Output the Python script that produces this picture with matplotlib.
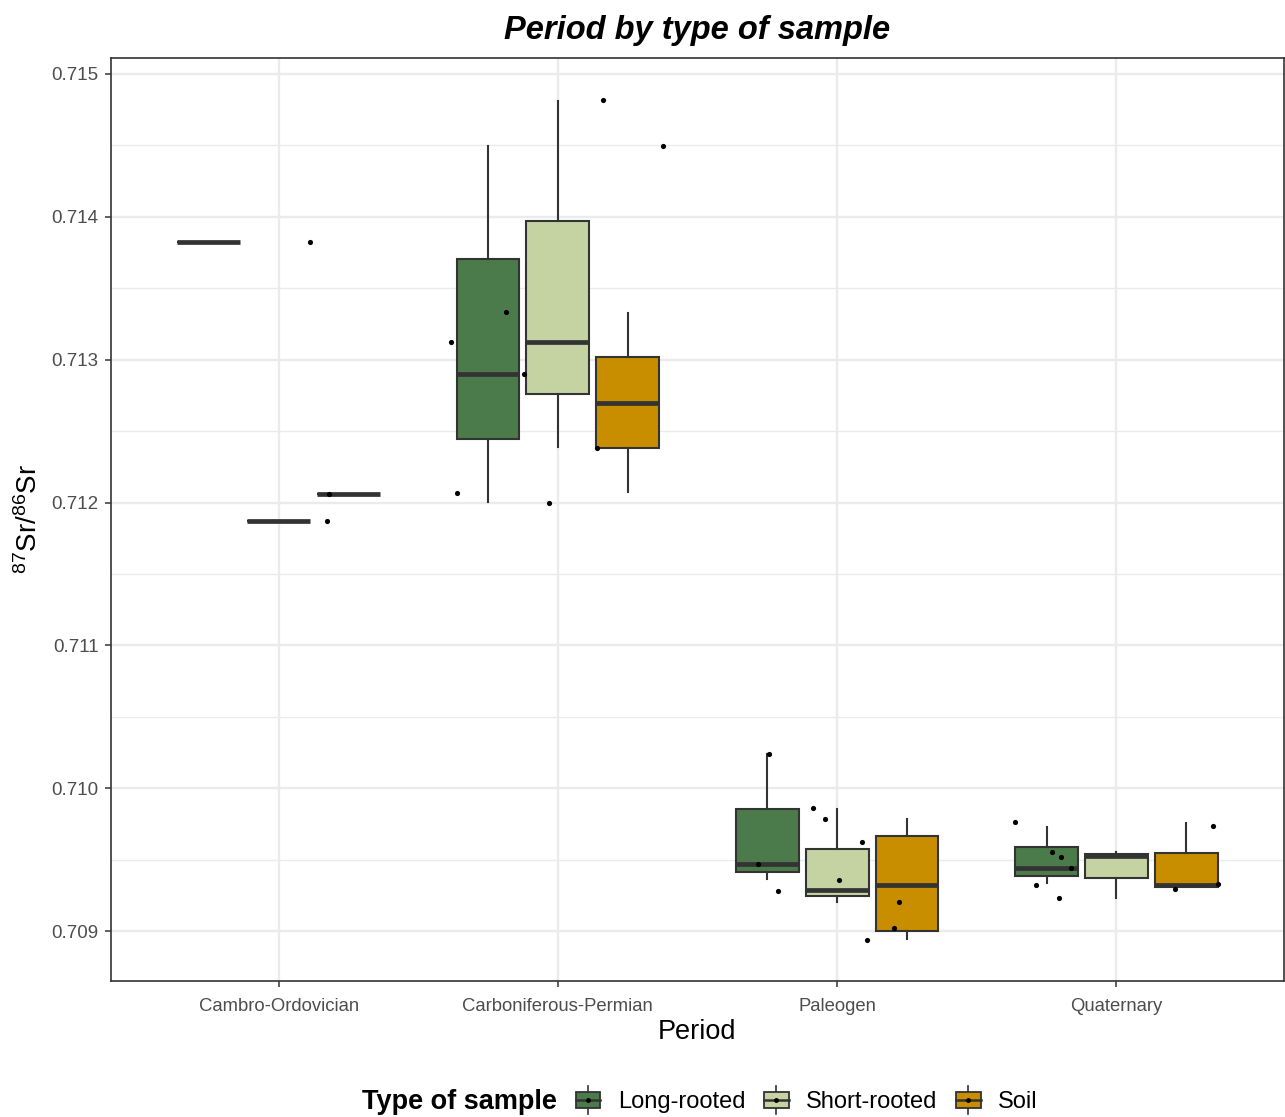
import matplotlib
matplotlib.use("Agg")
import matplotlib.pyplot as plt
from matplotlib.legend_handler import HandlerBase
from matplotlib.patches import Patch, Rectangle
from matplotlib.lines import Line2D

plt.rcParams['font.family'] = ['Liberation Sans', 'DejaVu Sans']
plt.rcParams['mathtext.default'] = 'regular'

# ---------------- data ----------------
periods = ["Cambro-Ordovician", "Carboniferous-Permian", "Paleogen", "Quaternary"]
types = ["Long-rooted", "Short-rooted", "Soil"]
colors = ["#4b7b4b", "#c4d3a1", "#c98d00"]

# box statistics per type: one value per period (whislo, q1, median, q3, whishi)
long_whislo = [0.713826, 0.712001, 0.709366, 0.709334]
long_q1     = [0.713826, 0.712447, 0.709413, 0.709383]
long_med    = [0.713826, 0.712900, 0.709469, 0.709439]
long_q3     = [0.713826, 0.713703, 0.709854, 0.709588]
long_whishi = [0.713826, 0.714496, 0.710239, 0.709730]

short_whislo = [0.711873, 0.712386, 0.709205, 0.709231]
short_q1     = [0.711873, 0.712757, 0.709245, 0.709373]
short_med    = [0.711873, 0.713124, 0.709285, 0.709523]
short_q3     = [0.711873, 0.713971, 0.709574, 0.709539]
short_whishi = [0.711873, 0.714813, 0.709852, 0.709555]

soil_whislo = [0.712060, 0.712071, 0.708942, 0.709305]
soil_q1     = [0.712060, 0.712382, 0.709000, 0.709308]
soil_med    = [0.712060, 0.712699, 0.709324, 0.709324]
soil_q3     = [0.712060, 0.713016, 0.709665, 0.709544]
soil_whishi = [0.712060, 0.713329, 0.709782, 0.709758]

# jittered observations (period index, horizontal jitter, value)
pt_period = [0, 0, 0,
             1, 1, 1, 1, 1, 1, 1, 1,
             2, 2, 2, 2, 2, 2, 2, 2, 2, 2,
             3, 3, 3, 3, 3, 3, 3, 3, 3]
pt_jitter = [0.111, 0.172, 0.179,
             0.162, 0.375, -0.184, -0.381, -0.121, 0.140, -0.362, -0.032,
             -0.243, -0.085, -0.042, 0.090, -0.284, 0.005, -0.211, 0.223, 0.204, 0.108,
             -0.362, -0.230, -0.198, -0.161, -0.288, -0.204, 0.345, 0.211, 0.362]
pt_value = [0.713826, 0.711873, 0.712060,
            0.714818, 0.714498, 0.713332, 0.713126, 0.712900, 0.712384, 0.712067, 0.711999,
            0.710239, 0.709859, 0.709784, 0.709623, 0.709469, 0.709360, 0.709282, 0.709203, 0.709023, 0.708937,
            0.709763, 0.709555, 0.709518, 0.709439, 0.709322, 0.709231, 0.709733, 0.709296, 0.709331]

yticks = [0.709, 0.710, 0.711, 0.712, 0.713, 0.714, 0.715]
ytick_labels = ["0.709", "0.710", "0.711", "0.712", "0.713", "0.714", "0.715"]

# ---------------- figure ----------------
W, H = 1285, 1117
fig = plt.figure(figsize=(W / 100, H / 100), dpi=100)
ax = fig.add_axes([111 / W, 1 - 981 / H, (1284 - 111) / W, (981 - 58) / H])

edge = "#333333"
grid_c = "#ebebeb"

ax.set_xlim(0.4, 4.6)
ax.set_ylim(0.70865, 0.715112)

# grid
for yv in yticks:
    ax.axhline(yv, color=grid_c, lw=1.7, zorder=0)
for yv in [0.7095, 0.7105, 0.7115, 0.7125, 0.7135, 0.7145]:
    ax.axhline(yv, color=grid_c, lw=1.0, zorder=0)
for i in range(len(periods)):
    ax.axvline(i + 1, color=grid_c, lw=1.7, zorder=0)

all_stats = [
    (long_whislo, long_q1, long_med, long_q3, long_whishi),
    (short_whislo, short_q1, short_med, short_q3, short_whishi),
    (soil_whislo, soil_q1, soil_med, soil_q3, soil_whishi),
]
offsets = [-0.25, 0.0, 0.25]
for t, (wl, q1, md, q3, wh) in enumerate(all_stats):
    stats = []
    for i in range(len(periods)):
        stats.append(dict(whislo=wl[i], q1=q1[i], med=md[i], q3=q3[i], whishi=wh[i], fliers=[]))
    pos = [i + 1 + offsets[t] for i in range(len(periods))]
    ax.bxp(stats, positions=pos, widths=0.225, patch_artist=True, showcaps=False,
           showfliers=False, manage_ticks=False,
           boxprops=dict(facecolor=colors[t], edgecolor=edge, linewidth=1.5),
           whiskerprops=dict(color=edge, linewidth=1.5),
           medianprops=dict(color=edge, linewidth=3.4, solid_capstyle='butt'),
           zorder=2)

px = [pt_period[k] + 1 + pt_jitter[k] for k in range(len(pt_value))]
ax.scatter(px, pt_value, s=14, color="black", zorder=4, linewidths=0)

ax.set_xticks(range(1, len(periods) + 1))
ax.set_xticklabels(periods, fontsize=13.3, color="#4d4d4d")
ax.set_yticks(yticks)
ax.set_yticklabels(ytick_labels, fontsize=13.5, color="#4d4d4d")
ax.tick_params(axis='both', length=4, width=1.1, color=edge)
ax.tick_params(axis='x', pad=8)
ax.tick_params(axis='y', pad=5)

for s in ax.spines.values():
    s.set_color(edge)
    s.set_linewidth(1.2)

ax.set_xlabel("Period", fontsize=19.5, labelpad=3)
ax.set_ylabel(r"$^{87}$Sr/$^{86}$Sr", fontsize=20, labelpad=6)
ax.set_title("Period by type of sample", fontsize=23.5, fontweight="bold",
             fontstyle="italic", pad=14)


# ---------------- legend ----------------
class BoxKeyHandler(HandlerBase):
    def create_artists(self, legend, orig_handle, xdescent, ydescent, width, height,
                       fontsize, trans):
        fc = orig_handle.get_facecolor()
        cx = -xdescent + width / 2
        cy = -ydescent + height / 2
        bw = width * 0.95
        bh = height * 0.95
        whisk = Line2D([cx, cx], [cy - height * 0.85, cy + height * 0.85],
                       color=edge, lw=1.2, transform=trans)
        rect = Rectangle((cx - bw / 2, cy - bh / 2), bw, bh, facecolor=fc,
                         edgecolor=edge, lw=1.3, transform=trans)
        med = Line2D([cx - bw / 2, cx + bw / 2], [cy, cy], color=edge, lw=1.8,
                     transform=trans)
        dot = Line2D([cx], [cy], marker='o', markersize=2.5, color='black',
                     lw=0, transform=trans)
        return [whisk, rect, med, dot]


handles = [Patch(facecolor=c, edgecolor=edge) for c in colors]
leg_y = 1 - 1102 / H
fig.text(362 / W, leg_y, "Type of sample", fontsize=19.5, fontweight="bold",
         ha="left", va="center")
leg = fig.legend(handles, types, loc="center left",
                 bbox_to_anchor=(575 / W, leg_y), ncol=3, frameon=False,
                 fontsize=17, handlelength=1.1, handleheight=0.7,
                 handletextpad=0.72, columnspacing=0.75, borderpad=0, borderaxespad=0,
                 handler_map={Patch: BoxKeyHandler()})

fig.savefig("out.png", dpi=100, facecolor="white")
